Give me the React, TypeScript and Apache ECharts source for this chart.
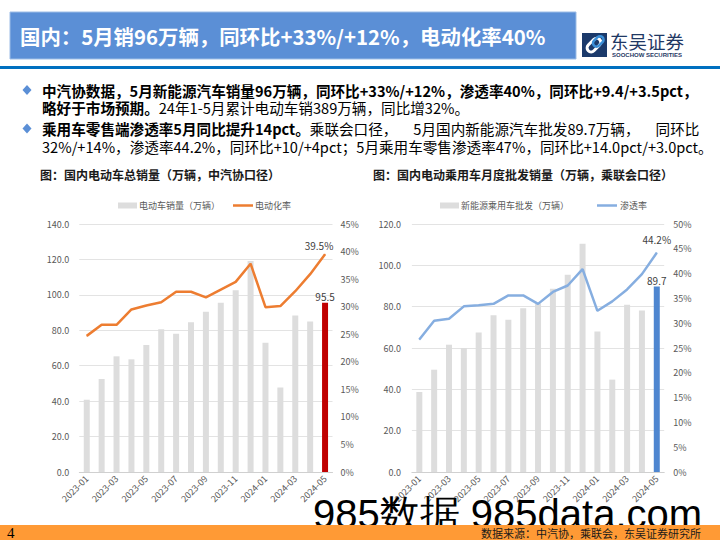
import React, { useEffect, useRef } from "react";
import * as echarts from "echarts";

const months = [
  "2023-01", "2023-02", "2023-03", "2023-04", "2023-05", "2023-06", "2023-07", "2023-08", "2023-09",
  "2023-10", "2023-11", "2023-12", "2024-01", "2024-02", "2024-03", "2024-04", "2024-05",
];
const caamSales = [40.8, 52.5, 65.3, 63.6, 71.7, 80.6, 78.0, 84.6, 90.4, 95.6, 102.6, 119.1, 72.9, 47.7, 88.3, 85.0, 95.5];
const caamRate = [24.7, 26.7, 26.7, 29.5, 30.2, 30.8, 32.7, 32.7, 31.7, 33.1, 34.5, 37.8, 29.9, 30.1, 32.8, 35.9, 39.5];
const cpcaWholesale = [38.7, 49.5, 61.6, 60.0, 67.5, 75.8, 73.7, 79.2, 81.5, 88.7, 95.5, 110.4, 68.0, 44.7, 80.9, 78.2, 89.7];
const cpcaRate = [26.7, 30.5, 30.9, 33.4, 33.6, 33.9, 35.6, 35.6, 33.9, 36.3, 37.6, 40.9, 32.5, 34.4, 36.8, 39.9, 44.2];

const FONT = "Noto Sans CJK SC";
const GRAY = "#595959";

function barData(vals: number[], hi: string) {
  const last = vals.length - 1;
  return vals.map((v, i) =>
    i === last
      ? { value: v, itemStyle: { color: hi }, label: { show: true, position: "top", distance: 1, fontSize: 10, color: "#404040", formatter: (p: any) => p.value.toFixed(1) } }
      : v
  );
}
function lineData(vals: number[], offset: number[]) {
  const last = vals.length - 1;
  return vals.map((v, i) =>
    i === last
      ? { value: v, label: { show: true, position: "top", distance: 3, offset, fontSize: 10, color: "#404040", formatter: (p: any) => p.value.toFixed(1) + "%" } }
      : v
  );
}

export default function App() {
  const ref = useRef<HTMLDivElement>(null);
  useEffect(() => {
    const chart = echarts.init(ref.current!, undefined, { renderer: "svg" });
    const yLeft = (idx: number, max: number, margin: number) => ({
      type: "value", gridIndex: idx, min: 0, max, interval: 20,
      axisLine: { show: false }, axisTick: { show: false },
      splitLine: { lineStyle: { color: "#E3E3E3", width: 1 } },
      axisLabel: { fontSize: 9, color: GRAY, margin, fontFamily: FONT, formatter: (v: number) => v.toFixed(1) },
    });
    const yRight = (idx: number, max: number, margin: number) => ({
      type: "value", gridIndex: idx, min: 0, max, interval: 5, position: "right",
      axisLine: { show: false }, axisTick: { show: false }, splitLine: { show: false },
      axisLabel: { fontSize: 9, color: GRAY, margin, fontFamily: FONT, formatter: "{value}%" },
    });
    const xAx = (idx: number) => ({
      type: "category", gridIndex: idx, data: months,
      axisLine: { lineStyle: { color: "#D0D0D0" } }, axisTick: { show: false },
      axisLabel: { interval: 1, rotate: 45, fontSize: 9, color: GRAY, margin: 5, fontFamily: FONT },
    });
    const FS = 14.6;
    const bulletRich = {
      b: { fontSize: FS, fontWeight: "bold", color: "#1A1A1A", fontFamily: FONT },
      n: { fontSize: FS, color: "#1A1A1A", fontFamily: FONT },
      g: { fontSize: FS, color: "#1A1A1A", fontFamily: FONT, padding: [0, 0, 0, 16] },
    };
    chart.setOption({
      animation: false,
      textStyle: { fontFamily: FONT },
      grid: [
        { left: 79.3, right: 387.5, top: 224, bottom: 68 },
        { left: 411.9, right: 55.8, top: 224, bottom: 68 },
      ],
      xAxis: [xAx(0), xAx(1)],
      yAxis: [yLeft(0, 140, 10), yRight(0, 45, 8), yLeft(1, 120, 11), yRight(1, 50, 9)],
      series: [
        { type: "bar", xAxisIndex: 0, yAxisIndex: 0, barWidth: 6, itemStyle: { color: "#DDDDDD" }, data: barData(caamSales, "#C00000"), z: 2 },
        { type: "line", xAxisIndex: 0, yAxisIndex: 1, symbol: "circle", symbolSize: 1, itemStyle: { color: "#ED7D31" }, lineStyle: { color: "#ED7D31", width: 2.5 }, data: lineData(caamRate, [-6, 0]), z: 3 },
        { type: "bar", xAxisIndex: 1, yAxisIndex: 2, barWidth: 6, itemStyle: { color: "#DDDDDD" }, data: barData(cpcaWholesale, "#4E86D0"), z: 2 },
        { type: "line", xAxisIndex: 1, yAxisIndex: 3, symbol: "circle", symbolSize: 1, itemStyle: { color: "#86AEE0" }, lineStyle: { color: "#86AEE0", width: 2.5 }, data: lineData(cpcaRate, [0, -5]), z: 3 },
      ],
      graphic: [
        { type: "rect", shape: { x: 10, y: 12, width: 566, height: 47 }, style: { fill: "#5B8FD6", stroke: "#9DBDE6", lineWidth: 1 } },
        { type: "text", x: 20, y: 36, style: { text: "国内：5月销96万辆，同环比+33%/+12%，电动化率40%", fill: "#FFFFFF", fontSize: 20.4, fontWeight: "bold", fontFamily: FONT, verticalAlign: "middle" } },
        { type: "rect", shape: { x: 0, y: 66, width: 720, height: 3 }, style: { fill: "#0070C0" } },
        // logo
        { type: "rect", shape: { x: 582, y: 33, width: 25, height: 24 }, style: { fill: "#1B3A6B" } },
        { type: "rect", shape: { x: 586, y: 41, width: 16, height: 8, r: 4 }, rotation: Math.PI / 4, originX: 594, originY: 45, style: { fill: "none", stroke: "#FFFFFF", lineWidth: 3 } },
        { type: "rect", shape: { x: 592, y: 38, width: 12, height: 7, r: 3.5 }, rotation: Math.PI / 4, originX: 598, originY: 41, style: { fill: "none", stroke: "#3A8FD8", lineWidth: 2.5 } },
        { type: "text", x: 610, y: 40.5, style: { text: "东吴证券", fill: "#1F3864", fontSize: 18.5, fontFamily: FONT, verticalAlign: "middle" } },
        { type: "text", x: 612, y: 55, style: { text: "SOOCHOW SECURITIES", fill: "#1F3864", fontSize: 6, fontWeight: "bold", fontFamily: "Liberation Sans", verticalAlign: "middle" } },
        // bullets
        { type: "polygon", shape: { points: [[27, 85], [31.5, 90], [27, 95], [22.5, 90]] }, style: { fill: "#5B8FD6" } },
        { type: "polygon", shape: { points: [[27, 123.5], [31.5, 128.5], [27, 133.5], [22.5, 128.5]] }, style: { fill: "#5B8FD6" } },
        { type: "text", x: 42, y: 90, style: { text: "{b|中汽协数据，5月新能源汽车销量96万辆，同环比+33%/+12%，渗透率40%，同环比+9.4/+3.5pct，}", rich: bulletRich, verticalAlign: "middle" } },
        { type: "text", x: 42, y: 107.5, style: { text: "{b|略好于市场预期。}{n|24年1-5月累计电动车销389万辆，同比增32%。}", rich: bulletRich, verticalAlign: "middle" } },
        { type: "text", x: 42, y: 128.5, style: { text: "{b|乘用车零售端渗透率5月同比提升14pct。}{n|乘联会口径，}{g|5月国内新能源汽车批发89.7万辆，}{g|同环比}", rich: bulletRich, verticalAlign: "middle" } },
        { type: "text", x: 42, y: 146, style: { text: "{n|32%/+14%，渗透率44.2%，同环比+10/+4pct；5月乘用车零售渗透率47%，同环比+14.0pct/+3.0pct。}", rich: bulletRich, verticalAlign: "middle" } },
        // chart titles
        { type: "text", x: 40, y: 174, style: { text: "图：国内电动车总销量（万辆，中汽协口径）", fill: "#1A1A1A", fontSize: 12, fontWeight: "bold", fontFamily: FONT, verticalAlign: "middle" } },
        { type: "text", x: 373, y: 174, style: { text: "图：国内电动乘用车月度批发销量（万辆，乘联会口径）", fill: "#1A1A1A", fontSize: 12, fontWeight: "bold", fontFamily: FONT, verticalAlign: "middle" } },
        // legends
        { type: "rect", shape: { x: 118, y: 202.5, width: 19, height: 6 }, style: { fill: "#DDDDDD" } },
        { type: "text", x: 139, y: 205.5, style: { text: "电动车销量（万辆）", fill: GRAY, fontSize: 9, fontFamily: FONT, verticalAlign: "middle" } },
        { type: "line", shape: { x1: 233, y1: 205.5, x2: 253, y2: 205.5 }, style: { stroke: "#ED7D31", lineWidth: 2.5 } },
        { type: "text", x: 255, y: 205.5, style: { text: "电动化率", fill: GRAY, fontSize: 9, fontFamily: FONT, verticalAlign: "middle" } },
        { type: "rect", shape: { x: 440, y: 202.5, width: 19, height: 6 }, style: { fill: "#DDDDDD" } },
        { type: "text", x: 461, y: 205.5, style: { text: "新能源乘用车批发（万辆）", fill: GRAY, fontSize: 9, fontFamily: FONT, verticalAlign: "middle" } },
        { type: "line", shape: { x1: 597, y1: 205.5, x2: 617, y2: 205.5 }, style: { stroke: "#86AEE0", lineWidth: 2.5 } },
        { type: "text", x: 620, y: 205.5, style: { text: "渗透率", fill: GRAY, fontSize: 9, fontFamily: FONT, verticalAlign: "middle" } },
        // watermark
        { type: "text", x: 313, y: 514, z: 50, style: { text: "985数据 985data.com", fill: "#000000", fontSize: 40, fontFamily: "Liberation Sans", verticalAlign: "middle" } },
        // footer
        { type: "rect", z: 100, shape: { x: 0, y: 525, width: 720, height: 15 }, style: { fill: "#FF9A35" } },
        { type: "text", z: 101, x: 7, y: 533, style: { text: "4", fill: "#000000", fontSize: 15, fontFamily: "Liberation Serif", verticalAlign: "middle" } },
        { type: "text", z: 101, x: 701, y: 533, style: { text: "数据来源：中汽协，乘联会，东吴证券研究所", fill: "#1A1A1A", fontSize: 11, fontFamily: FONT, align: "right", verticalAlign: "middle" } },
      ],
    });
    return () => chart.dispose();
  }, []);
  return <div ref={ref} style={{ position: "fixed", left: 0, top: 0, width: 720, height: 540, background: "#FFFFFF" }} />;
}
